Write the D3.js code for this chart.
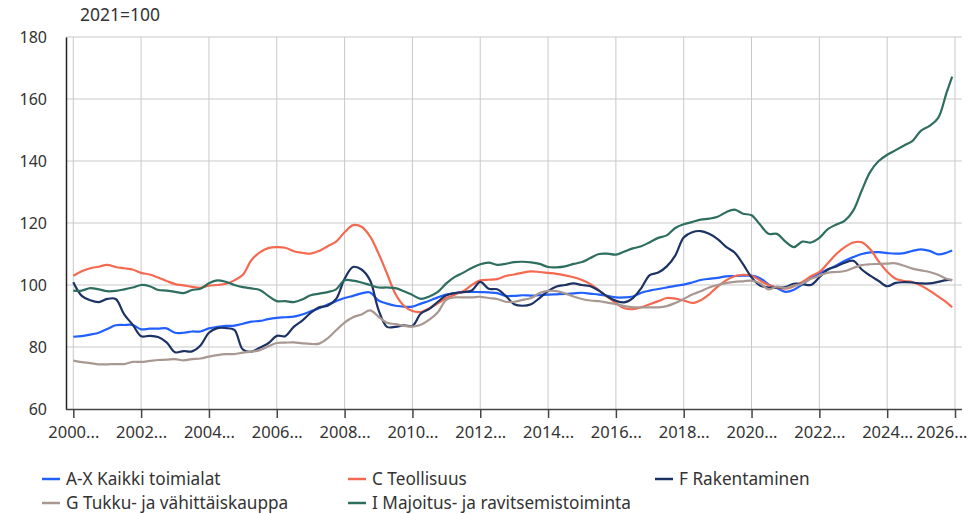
<!DOCTYPE html>
<html>
<head>
<meta charset="utf-8">
<script src="https://cdn.jsdelivr.net/npm/d3@7"></script>
<style>
  body { margin: 0; background: #fff; }
  svg text { font-family: "Noto Sans", "Open Sans", sans-serif; fill: #333; }
  .grid line { stroke: #c9c9c9; stroke-width: 1; }
  .series { fill: none; stroke-width: 2.2; stroke-linejoin: round; }
</style>
</head>
<body>
<svg id="chart" width="975" height="514"></svg>
<script>
// months since 2000M01, one reading per quarter + the last month
const months = d3.range(0, 312, 3).concat([311]);

const seriesNames = [
  "A-X Kaikki toimialat",
  "C Teollisuus",
  "F Rakentaminen",
  "G Tukku- ja vähittäiskauppa",
  "I Majoitus- ja ravitsemistoiminta"
];

const seriesColors = ["#2160ff", "#f4694f", "#1c3264", "#a89891", "#2d6e5e"];

const kaikki = [
  83.3, 83.5, 84.0, 84.6, 85.8, 87.0, 87.1, 87.1, 85.7, 85.9, 85.9, 86.0, 84.6, 84.6, 85.0, 85.0,
  86.0, 86.5, 86.8, 86.9, 87.5, 88.2, 88.4, 89.0, 89.4,
  89.6, 89.8, 90.5, 91.5, 92.5, 93.7, 94.8, 95.8, 96.5, 97.3, 97.6, 95.0, 94.0, 93.3, 93.0,
  93.0, 94.0, 94.9, 96.0, 96.9, 97.4, 97.8, 97.8, 97.7, 97.6, 97.4, 96.5,
  96.5, 96.7, 96.6, 96.7, 96.9, 97.0, 97.1, 97.3, 97.5, 97.2, 96.9, 96.5, 96.0, 96.0, 96.3, 97.5,
  98.2, 98.7, 99.2, 99.7, 100.1, 100.8, 101.6, 102.0, 102.3, 102.8,
  102.9, 103.0, 103.0, 102.2, 100.2, 99.0, 97.8, 98.5, 100.2, 102.2, 103.8, 105.0, 106.3, 107.8,
  109.0, 110.0, 110.5, 110.6, 110.3, 110.1, 110.3, 111.0, 111.5, 111.0, 109.9, 110.4,
  111.1
];

const teollisuus = [
  103.0, 104.4, 105.4, 105.9, 106.5, 105.8, 105.4, 105.0, 103.9, 103.4, 102.4, 101.3, 100.3, 99.9,
  99.4, 99.1, 99.8, 100.0, 100.4, 101.5, 103.3, 108.0, 110.5, 111.9, 112.2,
  112.0, 110.9, 110.4, 110.1, 111.0, 112.5, 114.0, 117.0, 119.3, 118.8, 115.7, 110.2, 103.7, 97.1,
  93.3, 91.6, 91.3, 92.5, 94.1, 95.8, 96.9, 98.0, 100.0, 101.5, 101.7, 101.9, 102.9,
  103.4, 104.0, 104.4, 104.2, 103.9, 103.6, 103.1, 102.5, 101.6, 100.3, 98.3, 96.2, 94.2, 92.5,
  92.2, 92.8, 93.8, 94.8, 95.8, 95.6, 95.0, 94.2, 95.1, 97.0, 99.5, 101.5,
  102.8, 103.3, 103.0, 101.5, 100.0, 99.2, 98.8, 99.6, 101.0, 102.8, 104.2, 107.0, 110.0, 112.2,
  113.7, 113.8, 111.5, 107.6, 104.3, 102.0, 101.3, 100.9, 99.8, 98.2, 96.3, 94.4,
  92.8
];

const rakentaminen = [
  100.9, 96.5, 95.1, 94.5, 95.5, 95.5, 90.5, 87.2, 83.5, 83.6, 83.2, 81.5, 78.3, 78.7, 78.6, 80.5,
  84.6, 86.1, 86.1, 85.5, 79.2, 78.5, 79.8, 81.2, 83.6,
  83.5, 86.5, 88.5, 91.0, 92.8, 93.3, 95.5, 102.0, 105.8, 105.0, 101.5, 92.0, 86.5, 86.5, 87.0,
  86.8, 90.8, 92.3, 94.6, 96.7, 97.4, 97.7, 98.2, 101.0, 98.8, 98.6, 96.5,
  93.8, 93.3, 93.8, 95.8, 98.0, 99.5, 100.0, 100.5, 100.0, 99.6, 98.2, 96.3, 94.9, 94.4, 95.8, 99.0,
  103.2, 104.0, 106.0, 109.5, 115.3, 117.0, 117.4, 116.5, 114.8, 112.3,
  110.5, 106.7, 102.5, 99.8, 99.2, 99.2, 99.3, 100.4, 100.3, 100.0, 102.5, 105.0, 106.0, 107.2,
  107.8, 105.0, 103.0, 101.3, 99.6, 100.7, 100.9, 100.8, 100.5, 100.5, 101.0, 101.6,
  101.6
];

const kauppa = [
  75.6, 75.1, 74.8, 74.4, 74.4, 74.5, 74.5, 75.2, 75.2, 75.5, 75.8, 75.9, 76.1, 75.7, 76.1, 76.3,
  76.9, 77.4, 77.7, 77.7, 78.2, 78.5, 79.0, 80.2, 81.3,
  81.4, 81.5, 81.2, 81.0, 81.1, 82.8, 85.4, 87.9, 89.6, 90.5, 91.8, 89.8, 87.8, 87.4, 86.8,
  86.6, 87.2, 88.8, 91.2, 95.2, 96.0, 96.0, 96.0, 96.2, 95.8, 95.5, 94.6,
  94.6, 95.2, 95.8, 97.4, 98.1, 98.0, 97.3, 96.3, 95.5, 95.0, 94.8, 94.3, 93.8, 93.2, 92.8, 92.8,
  92.8, 92.8, 93.2, 94.2, 95.5, 96.9, 98.0, 99.2, 100.0, 100.6,
  101.0, 101.2, 101.4, 100.6, 98.6, 99.5, 99.0, 99.8, 100.5, 102.0, 103.0, 104.0, 104.2, 104.5,
  105.5, 106.4, 106.7, 106.8, 106.9, 107.0, 106.2, 105.3, 104.7, 104.2, 103.3, 102.0,
  101.6
];

const majoitus = [
  98.2, 98.2, 99.0, 98.6, 98.0, 98.1, 98.6, 99.2, 100.0, 99.6, 98.4, 98.2, 97.8, 97.4, 98.4, 98.8,
  100.6, 101.5, 101.0, 100.0, 99.3, 98.9, 98.4, 96.5, 94.8,
  94.8, 94.5, 95.3, 96.7, 97.2, 97.7, 98.6, 101.5, 101.4, 100.8, 100.0, 99.2, 99.2, 99.0, 98.0,
  96.8, 95.5, 96.3, 97.8, 100.5, 102.6, 104.0, 105.5, 106.7, 107.2, 106.5, 106.8,
  107.4, 107.5, 107.3, 106.8, 105.8, 105.7, 106.0, 106.8, 107.4, 108.7, 110.0, 110.1, 109.8, 110.8,
  111.8, 112.5, 113.8, 115.2, 116.0, 118.4, 119.6, 120.3, 121.1, 121.4, 122.0, 123.5,
  124.3, 123.0, 122.5, 119.5, 116.5, 116.5, 114.0, 112.2, 114.0, 113.7, 115.2, 118.0, 119.5, 120.8,
  124.0, 130.5, 136.5, 140.0, 142.0, 143.5, 145.0, 146.5, 149.8, 151.3, 153.8, 162.0,
  167.2
];

const seriesValues = [kaikki, teollisuus, rakentaminen, kauppa, majoitus];

const yTicks = [60, 80, 100, 120, 140, 160, 180];
const xTickMonths = [0, 24, 48, 72, 96, 120, 144, 168, 192, 216, 240, 264, 288, 312];
const xTickLabels = ["2000...", "2002...", "2004...", "2006...", "2008...", "2010...", "2012...",
  "2014...", "2016...", "2018...", "2020...", "2022...", "2024...", "2026..."];

const svg = d3.select("#chart");

const x = d3.scaleLinear().domain([0, 312]).range([73.3, 955]);
const y = d3.scaleLinear().domain([60, 180]).range([409, 37]);

// gridlines
const grid = svg.append("g").attr("class", "grid");
grid.selectAll("line.h")
  .data(yTicks.slice(1))
  .enter()
  .append("line")
  .attr("class", "h")
  .attr("x1", 66).attr("x2", 962)
  .attr("y1", d => y(d)).attr("y2", d => y(d));
grid.selectAll("line.v")
  .data(xTickMonths)
  .enter()
  .append("line")
  .attr("class", "v")
  .attr("x1", d => x(d)).attr("x2", d => x(d))
  .attr("y1", y(180)).attr("y2", y(60));

// y axis
const yAxis = svg.append("g")
  .attr("transform", "translate(66,0)")
  .call(d3.axisLeft(y).tickValues(yTicks).tickSize(0).tickPadding(19));
yAxis.select(".domain").attr("stroke", "#222").attr("stroke-width", 1.5);
yAxis.selectAll("text").style("font-size", "16px").attr("fill", "#333");

// x axis (labels are truncated like in the original)
const xAxis = svg.append("g")
  .attr("transform", "translate(0,409)")
  .call(d3.axisBottom(x).tickValues(xTickMonths).tickSize(9).tickPadding(8)
    .tickFormat((d, i) => xTickLabels[i]));
xAxis.select(".domain")
  .attr("d", "M66,0.5H962")
  .attr("stroke", "#444").attr("stroke-width", 1.5);
xAxis.selectAll(".tick line").attr("stroke", "#444").attr("stroke-width", 1.5);
xAxis.selectAll("text")
  .style("font-size", "16.5px")
  .attr("fill", "#333");
// last label is pulled in so it stays inside the frame
xAxis.selectAll(".tick text")
  .filter((d, i) => i === xTickMonths.length - 1)
  .attr("text-anchor", "end")
  .attr("x", 12);

// lines
const line = d3.line()
  .x((d, i) => x(months[i]))
  .y(d => y(d))
  .curve(d3.curveCatmullRom.alpha(0.5));

svg.append("g").selectAll("path.series")
  .data(seriesValues)
  .enter()
  .append("path")
  .attr("class", "series")
  .attr("stroke", (d, i) => seriesColors[i])
  .attr("d", line);

// unit label
svg.append("text")
  .attr("x", 80).attr("y", 21)
  .style("font-size", "17.5px")
  .text("2021=100");

// legend
const legendPos = [[42, 479], [348, 479], [655, 479], [42, 503], [348, 503]];
const legend = svg.append("g").selectAll("g")
  .data(seriesNames)
  .enter()
  .append("g")
  .attr("transform", (d, i) => "translate(" + legendPos[i][0] + "," + legendPos[i][1] + ")");
legend.append("line")
  .attr("x1", 0).attr("x2", 18)
  .attr("stroke", (d, i) => seriesColors[i])
  .attr("stroke-width", 2.5);
legend.append("text")
  .attr("x", 24).attr("dy", "0.35em")
  .style("font-size", "17.2px")
  .text(d => d);
</script>
</body>
</html>
